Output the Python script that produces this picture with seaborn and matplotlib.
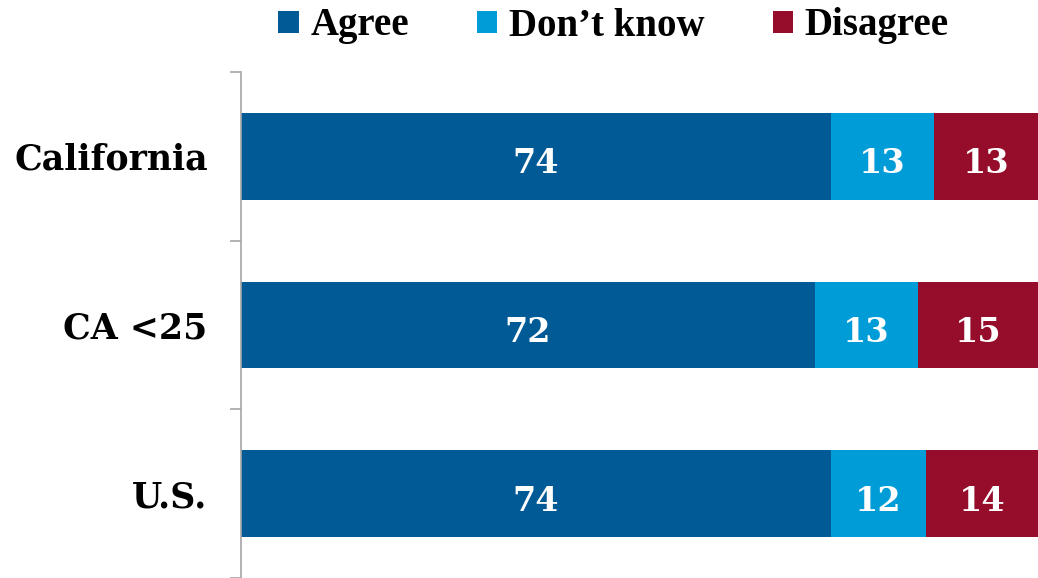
import matplotlib
matplotlib.use("Agg")
import matplotlib.pyplot as plt
from matplotlib.patches import Patch
import seaborn as sns
import pandas as pd
import numpy as np

# Survey responses (percent)
groups = ["California", "CA <25", "U.S."]
agree = [74, 72, 74]
dont_know = [13, 13, 12]
disagree = [13, 15, 14]

series_names = ["Agree", "Don\u2019t know", "Disagree"]
colors = ["#005A96", "#009CD8", "#960C2B"]

sns.set_theme(style="white")
plt.rcParams["font.family"] = ["DejaVu Serif"]
plt.rcParams["text.color"] = "black"

df = pd.DataFrame({"group": groups, "Agree": agree,
                   "DK": dont_know, "Disagree": disagree})
df["cum_agree"] = df["Agree"]
df["cum_dk"] = df["Agree"] + df["DK"]
df["cum_all"] = df["cum_dk"] + df["Disagree"]

fig = plt.figure(figsize=(10.38, 5.78), dpi=100)
ax = fig.add_axes([241 / 1038, 0.0, 1 - 241 / 1038, (578 - 72) / 578])

bar_w = 0.515
# Layer cumulative totals so each segment shows through
for col, color in zip(["cum_all", "cum_dk", "cum_agree"], colors[::-1]):
    sns.barplot(data=df, x=col, y="group", orient="h", color=color,
                width=bar_w, saturation=1, ax=ax, linewidth=0)

ax.set_xlim(0, 100)
ax.set_ylim(2.5, -0.5)
ax.set_xlabel("")
ax.set_ylabel("")
ax.xaxis.set_visible(False)

# Segment value labels
for i in range(len(groups)):
    starts = [0, df["cum_agree"][i], df["cum_dk"][i]]
    vals = [agree[i], dont_know[i], disagree[i]]
    for s, v in zip(starts, vals):
        ax.text(s + v / 2, i + 0.045, f"{v}", ha="center", va="center",
                color="white", fontsize=24, fontweight="bold")

for side in ["top", "right", "bottom"]:
    ax.spines[side].set_visible(False)
ax.spines["left"].set_color("#A6A6A6")
ax.spines["left"].set_linewidth(1.2)

ax.set_yticks(range(len(groups)))
ax.set_yticklabels(groups, fontsize=25, fontweight="bold", color="black")
ax.tick_params(axis="y", which="major", length=0, pad=24)
ax.set_yticks(np.arange(-0.5, len(groups), 1.0), minor=True)
ax.tick_params(axis="y", which="minor", length=8, width=1.2,
               color="#A6A6A6", left=True)

handles = [Patch(facecolor=c, edgecolor="none") for c in colors]
leg = fig.legend(handles, series_names, loc="center", ncol=3,
                 bbox_to_anchor=(0.591, 1 - 26 / 578), frameon=False,
                 prop={"family": "Liberation Serif", "weight": "bold", "size": 28},
                 handlelength=0.52, handleheight=0.5, handletextpad=0.3,
                 columnspacing=1.75)
for t in leg.get_texts():
    t.set_color("black")

fig.savefig("out.png", dpi=100)
